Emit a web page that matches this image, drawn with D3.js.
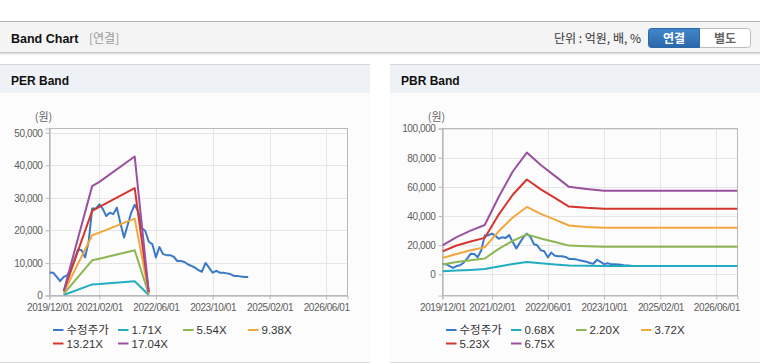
<!DOCTYPE html>
<html>
<head>
<meta charset="utf-8">
<script src="https://cdn.jsdelivr.net/npm/d3@7"></script>
<style>
  body { margin: 0; background: #fff; }
  svg { display: block; }
</style>
</head>
<body>
<svg id="chart" width="760" height="364"></svg>
<script>
// x axis tick labels (shared by both panels)
const xTickLabels = ['2019/12/01', '2021/02/01', '2022/06/01', '2023/10/01', '2025/02/01', '2026/06/01'];

// 수정주가 (monthly)
const priceDates = [
  '2019-12', '2020-01', '2020-02', '2020-03', '2020-04', '2020-05', '2020-06', '2020-07', '2020-08', '2020-09',
  '2020-10', '2020-11', '2020-12', '2021-01', '2021-02', '2021-03', '2021-04', '2021-05', '2021-06', '2021-07',
  '2021-08', '2021-09', '2021-10', '2021-11', '2021-12', '2022-01', '2022-02', '2022-03', '2022-04', '2022-05',
  '2022-06', '2022-07', '2022-08', '2022-09', '2022-10', '2022-11', '2022-12', '2023-01', '2023-02', '2023-03',
  '2023-04', '2023-05', '2023-06', '2023-07', '2023-08', '2023-09', '2023-10', '2023-11', '2023-12', '2024-01',
  '2024-02', '2024-03', '2024-04', '2024-05', '2024-06', '2024-07', '2024-08'
];
const priceValues = [
  7060, 7000, 5700, 4400, 5700, 6200, 8000, 10800, 14100, 13900,
  11700, 16500, 26700, 26700, 28000, 26700, 24400, 25400, 25000, 27000,
  22100, 17800, 21600, 25400, 27900, 25700, 20600, 19900, 16500, 15800,
  11700, 14900, 12700, 12400, 12400, 11900, 10600, 10600, 10300, 9600,
  9100, 8600, 7800, 7300, 10000, 8500, 7000, 7600, 7000, 7000,
  6800, 6600, 6000, 6000, 5800, 5700, 5700
];

// PER band
const perDates = ['2020-04', '2020-12', '2021-02', '2021-12', '2022-04'];
const perNames = ['1.71X', '5.54X', '9.38X', '13.21X', '17.04X'];
const per171 = [150, 3400, 3500, 4400, 150];
const per554 = [500, 10800, 11300, 13900, 400];
const per938 = [900, 18500, 19300, 23600, 700];
const per1321 = [1300, 26000, 27200, 33000, 1000];
const per1704 = [1400, 33600, 34900, 42700, 1100];

// PBR band
const pbrDates = ['2019-12', '2020-04', '2020-08', '2020-12', '2021-04', '2021-08', '2021-12',
                  '2022-04', '2022-08', '2022-12', '2023-05', '2023-10', '2026-12'];
const pbrNames = ['0.68X', '2.20X', '3.72X', '5.23X', '6.75X'];
const pbr068 = [2200, 2600, 3000, 3600, 5400, 7100, 8500, 7600, 6800, 6100, 5900, 5800, 5800];
const pbr220 = [6800, 8400, 9700, 10900, 17500, 23000, 27400, 24600, 22200, 19700, 19200, 18900, 18900];
const pbr372 = [11200, 14000, 16500, 18600, 29500, 39000, 46200, 41500, 37500, 33500, 32500, 32000, 32000];
const pbr523 = [15800, 19800, 22500, 25000, 41000, 54600, 65000, 58300, 52500, 46500, 45600, 45000, 45000];
const pbr675 = [19900, 25500, 30000, 33800, 53000, 70500, 83500, 75000, 67500, 60000, 58600, 57300, 57300];

const colors = ['#3a78c8', '#22acc0', '#8bb653', '#f2a73d', '#d4352c', '#9a519f'];

const parseMonth = d3.timeParse('%Y-%m');
const parseTick = d3.timeParse('%Y/%m/%d');
const LATIN = '"Liberation Sans", Arial, sans-serif';
const KOR = '"Noto Sans CJK KR", "Liberation Sans", sans-serif';

const svg = d3.select('#chart');

function drawHeader() {
  svg.append('rect').attr('x', 0).attr('y', 22).attr('width', 760).attr('height', 30).attr('fill', '#f4f4f4');
  svg.append('line').attr('x1', 0).attr('x2', 760).attr('y1', 21.5).attr('y2', 21.5).attr('stroke', '#b5b5b5');
  [['#c6c6c6', 52.5], ['#e2e2e2', 53.5], ['#f1f1f1', 54.5]].forEach(([c, y]) => {
    svg.append('line').attr('x1', 0).attr('x2', 760).attr('y1', y).attr('y2', y).attr('stroke', c);
  });

  svg.append('text').attr('x', 11).attr('y', 43)
    .style('font-family', LATIN).style('font-weight', 'bold').style('font-size', '12.5px')
    .attr('fill', '#111').text('Band Chart');
  svg.append('text').attr('x', 89).attr('y', 43)
    .style('font-family', KOR).style('font-size', '12px').attr('fill', '#999').text('[연결]');

  svg.append('text').attr('x', 641).attr('y', 42.5).attr('text-anchor', 'end')
    .style('font-family', KOR).style('font-size', '12px').attr('fill', '#333').text('단위 : 억원, 배, %');

  // toggle buttons
  const defs = svg.append('defs');
  const grad = defs.append('linearGradient').attr('id', 'btnBlue').attr('x1', 0).attr('x2', 0).attr('y1', 0).attr('y2', 1);
  grad.append('stop').attr('offset', '0%').attr('stop-color', '#4187cc');
  grad.append('stop').attr('offset', '100%').attr('stop-color', '#2a67a9');

  svg.append('rect').attr('x', 648.5).attr('y', 28.5).attr('width', 102).attr('height', 19).attr('rx', 3)
    .attr('fill', '#fff').attr('stroke', '#bdbdbd');
  svg.append('path')
    .attr('d', 'M651.5,28.5 H699.5 V47.5 H651.5 Q648.5,47.5 648.5,44.5 V31.5 Q648.5,28.5 651.5,28.5 Z')
    .attr('fill', 'url(#btnBlue)').attr('stroke', '#2d69a8');
  svg.append('text').attr('x', 674).attr('y', 42.5).attr('text-anchor', 'middle')
    .style('font-family', KOR).style('font-weight', 'bold').style('font-size', '12px')
    .attr('fill', '#fff').text('연결');
  svg.append('text').attr('x', 725).attr('y', 42.5).attr('text-anchor', 'middle')
    .style('font-family', KOR).style('font-weight', 'bold').style('font-size', '12px')
    .attr('fill', '#666').text('별도');
}

function drawPanel(opt) {
  const g = svg.append('g');

  // panel frame
  g.append('rect').attr('x', opt.left).attr('y', 65).attr('width', opt.width).attr('height', 297).attr('fill', '#fcfcfc');
  g.append('rect').attr('x', opt.left).attr('y', 65).attr('width', opt.width).attr('height', 28).attr('fill', '#eef1f6');
  g.append('line').attr('x1', opt.left).attr('x2', opt.left + opt.width).attr('y1', 64.5).attr('y2', 64.5).attr('stroke', '#d4d4d4');
  g.append('line').attr('x1', opt.left).attr('x2', opt.left + opt.width).attr('y1', 362.5).attr('y2', 362.5).attr('stroke', '#dcdcdc');
  g.append('text').attr('x', opt.left + 11).attr('y', 84.5)
    .style('font-family', LATIN).style('font-weight', 'bold').style('font-size', '12px')
    .attr('fill', '#111').text(opt.title);

  const x = d3.scaleTime()
    .domain([parseMonth('2019-12'), parseMonth('2026-12')])
    .range([opt.plotLeft, opt.plotRight]);
  const y = d3.scaleLinear().domain(opt.yDomain).range([295.5, 128.5]);

  const xTicks = xTickLabels.map(parseTick);
  const yTicks = opt.yTicks;

  // grid
  g.append('g').selectAll('line').data(yTicks).enter().append('line')
    .attr('x1', opt.plotLeft).attr('x2', opt.plotRight)
    .attr('y1', d => Math.round(y(d)) + 0.5).attr('y2', d => Math.round(y(d)) + 0.5)
    .attr('stroke', '#e6e6e6');
  g.append('g').selectAll('line').data(xTicks).enter().append('line')
    .attr('x1', d => Math.round(x(d)) + 0.5).attr('x2', d => Math.round(x(d)) + 0.5)
    .attr('y1', 128.5).attr('y2', 295.5)
    .attr('stroke', '#e6e6e6');

  // plot border
  g.append('rect').attr('x', opt.plotLeft).attr('y', 128.5)
    .attr('width', opt.plotRight - opt.plotLeft).attr('height', 167)
    .attr('fill', 'none').attr('stroke', '#b9b9b9');

  // axes
  const yAxis = d3.axisLeft(y).tickValues(yTicks).tickSize(4).tickPadding(3).tickFormat(d3.format(','));
  const yg = g.append('g').attr('transform', `translate(${opt.plotLeft},0)`).call(yAxis);
  const xAxis = d3.axisBottom(x).tickValues(xTicks).tickSize(4).tickPadding(4).tickFormat(d3.timeFormat('%Y/%m/%d'));
  const xg = g.append('g').attr('transform', 'translate(0,295.5)').call(xAxis);
  [yg, xg].forEach(ax => {
    ax.select('.domain').attr('stroke', '#b9b9b9');
    ax.selectAll('.tick line').attr('stroke', '#b9b9b9');
    ax.selectAll('.tick text').attr('fill', '#5c5c5c')
      .style('font-family', LATIN).style('font-size', '10px').style('letter-spacing', '-0.4px');
  });
  yg.selectAll('.tick text').attr('dy', '0.34em');

  g.append('text').attr('x', opt.plotLeft - 6).attr('y', 121).attr('text-anchor', 'middle')
    .style('font-family', KOR).style('font-size', '11px').attr('fill', '#666').text('(원)');

  // lines
  const line = d3.line().x(d => x(d[0])).y(d => y(d[1]));
  const clip = 'clip-' + opt.id;
  svg.select('defs').append('clipPath').attr('id', clip)
    .append('rect').attr('x', opt.plotLeft).attr('y', 128.5)
    .attr('width', opt.plotRight - opt.plotLeft).attr('height', 167);
  const lines = g.append('g').attr('clip-path', `url(#${clip})`);

  const series = [{ name: '수정주가', dates: priceDates, values: priceValues }]
    .concat(opt.bands.map((vals, i) => ({ name: opt.names[i], dates: opt.bandDates, values: vals })));

  series.forEach((s, i) => {
    const pts = s.dates.map((d, j) => [parseMonth(d), s.values[j]]);
    lines.append('path').datum(pts)
      .attr('d', line)
      .attr('fill', 'none')
      .attr('stroke', colors[i])
      .attr('stroke-width', 2)
      .attr('stroke-linejoin', 'round');
  });

  // legend
  const lg = g.append('g');
  series.forEach((s, i) => {
    const col = i % 4, row = Math.floor(i / 4);
    const lx = opt.plotLeft + 3.5 + col * 65;
    const ly = 330 + row * 13.5;
    lg.append('line').attr('x1', lx).attr('x2', lx + 10.5).attr('y1', ly).attr('y2', ly)
      .attr('stroke', colors[i]).attr('stroke-width', 2);
    lg.append('text').attr('x', lx + 13.5).attr('y', ly + 4)
      .style('font-family', i === 0 ? KOR : LATIN).style('font-size', '11.5px')
      .attr('fill', '#333').text(s.name);
  });
}

drawHeader();
drawPanel({
  id: 'per', title: 'PER Band', left: 0, width: 370,
  plotLeft: 49.5, plotRight: 347.5,
  yDomain: [0, 51300], yTicks: [0, 10000, 20000, 30000, 40000, 50000],
  bandDates: perDates, names: perNames,
  bands: [per171, per554, per938, per1321, per1704]
});
drawPanel({
  id: 'pbr', title: 'PBR Band', left: 390, width: 370,
  plotLeft: 442.5, plotRight: 737.5,
  yDomain: [-14500, 100000], yTicks: [0, 20000, 40000, 60000, 80000, 100000],
  bandDates: pbrDates, names: pbrNames,
  bands: [pbr068, pbr220, pbr372, pbr523, pbr675]
});
</script>
</body>
</html>
